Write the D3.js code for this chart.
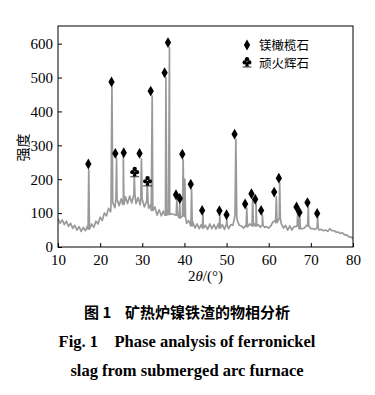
<!DOCTYPE html>
<html>
<head>
<meta charset="utf-8">
<script src="https://cdn.jsdelivr.net/npm/d3@7"></script>
<style>
	body{margin:0;background:#fff;}
	svg{display:block;}
	.serif{font-family:"Liberation Serif","DejaVu Serif",serif;}
</style>
</head>
<body>
<svg id="chart" width="375" height="395"></svg>
<script>
// background trace, every 0.5 deg from 10 to 80
const baseStart = 10, baseStep = 0.5;
const baseline = [
	84,70,80,66,76,61,70,55,64,50,60,46,58,48,62,53,68,58,76,68,
	88,78,100,92,114,104,130,116,140,122,142,126,148,128,150,130,152,128,146,124,
	140,118,134,114,126,108,118,94,110,92,106,94,106,96,98,96,94,92,86,92,
	90,70,78,62,74,56,68,54,66,56,64,52,68,54,66,53,68,56,66,52,
	64,54,66,64,92,80,64,62,56,62,60,68,62,70,62,66,58,64,58,60,
	56,62,74,78,72,84,68,56,64,50,62,50,60,60,62,54,54,56,64,62,
	54,54,52,56,50,52,48,50,46,54,48,48,44,44,40,42,36,36,30,30,24
];
// peak positions (2theta) and peak top intensity
const peakPos = [17.3,22.8,23.9,25.5,28.1,29.8,31.2,32.35,35.6,36.45,38.2,38.9,39.7,40.1,41.7,44.4,48.4,50.0,52.2,54.8,56.2,57.0,58.5,61.8,62.6,66.9,67.4,69.4,71.6];
const peakTop = [228,475,262,265,210,260,185,445,500,588,140,130,258,200,170,95,95,85,318,115,145,128,95,148,190,105,90,118,88];
// phase markers
const olivineX = [17.2,22.7,23.6,25.6,29.35,32.0,35.3,36.1,38.0,38.9,39.5,41.5,44.2,48.3,50.0,51.9,54.4,55.9,56.8,58.2,61.3,62.4,66.6,67.3,69.2,71.5];
const olivineY = [245,487,276,278,276,460,514,603,154,143,274,185,108,107,95,333,127,157,141,108,162,203,118,102,131,99];
const enstatiteX = [28.2,31.25];
const enstatiteY = [222,195];
const xTicks = [10,20,30,40,50,60,70,80];
const yTicks = [0,100,200,300,400,500,600];
const legendLabels = ["镁橄榄石","顽火辉石"];

const svg = d3.select("#chart");
const margin = {left:58, right:22, top:26, bottom:148};
const W = 375, H = 395;
const x = d3.scaleLinear().domain([10,80]).range([margin.left, W-margin.right]);
const y = d3.scaleLinear().domain([0,652]).range([H-margin.bottom, margin.top]);
const cjk = "'Noto Sans CJK SC',sans-serif";

// build trace points
let pts = baseline.map(function(v,i){ return [baseStart+i*baseStep, v]; });
peakPos.forEach(function(p,i){
	let k = Math.round((p-baseStart)/baseStep),
		foot = baseline[Math.max(0,Math.min(baseline.length-1,k))],
		w = peakTop[i] > 300 ? 0.22 : 0.16;
	pts.push([p-w, foot]);
	pts.push([p, peakTop[i]]);
	pts.push([p+w, foot]);
});
pts.sort(function(a,b){ return a[0]-b[0]; });

const line = d3.line().x(function(d){return x(d[0]);}).y(function(d){return y(d[1]);});
svg.append("path").datum(pts)
	.attr("d", line)
	.attr("fill","none")
	.attr("stroke","#9a9a9a")
	.attr("stroke-width",1.7)
	.attr("stroke-linejoin","round");

// frame
svg.append("rect")
	.attr("x", x(10)).attr("y", margin.top)
	.attr("width", x(80)-x(10)).attr("height", y(0)-margin.top)
	.attr("fill","none").attr("stroke","#000").attr("stroke-width",1);

const xAxis = svg.append("g").attr("transform","translate(0,"+y(0)+")")
	.call(d3.axisBottom(x).tickValues(xTicks).tickSizeInner(-4).tickSizeOuter(0).tickPadding(7));
const yAxis = svg.append("g").attr("transform","translate("+x(10)+",0)")
	.call(d3.axisLeft(y).tickValues(yTicks).tickSizeInner(-4).tickSizeOuter(0).tickPadding(5));
[xAxis,yAxis].forEach(function(a){
	a.attr("font-family",null).attr("font-size",15).attr("class","serif");
	a.select(".domain").remove();
	a.selectAll("line").attr("stroke","#000");
	a.selectAll("text").attr("fill","#000");
});

// markers
const diamond = d3.symbol().type(d3.symbolDiamond).size(34);
svg.append("g").selectAll("path").data(olivineX).enter().append("path")
	.attr("d", diamond)
	.attr("transform", function(d,i){ return "translate("+x(d)+","+y(olivineY[i])+")"; })
	.attr("fill","#000");

function club(g, cx, cy){
	g.append("circle").attr("cx",cx).attr("cy",cy-2.8).attr("r",2.2).attr("fill","#000");
	g.append("circle").attr("cx",cx-2.4).attr("cy",cy+0.4).attr("r",2.1).attr("fill","#000");
	g.append("circle").attr("cx",cx+2.4).attr("cy",cy+0.4).attr("r",2.1).attr("fill","#000");
	g.append("path").attr("d","M"+(cx-0.7)+","+cy+" L"+(cx-2)+","+(cy+4.5)+" L"+(cx+2)+","+(cy+4.5)+" L"+(cx+0.7)+","+cy+"Z").attr("fill","#000");
	g.append("line").attr("x1",cx-4.5).attr("x2",cx+4.5).attr("y1",cy+5).attr("y2",cy+5).attr("stroke","#000").attr("stroke-width",0.8);
}
const cg = svg.append("g");
enstatiteX.forEach(function(d,i){ club(cg, x(d), y(enstatiteY[i])); });

// legend
const lg = svg.append("g");
lg.append("path").attr("d",diamond).attr("transform","translate(247,45)").attr("fill","#000");
club(lg, 247, 62);
legendLabels.forEach(function(t,i){
	lg.append("text").attr("x",259).attr("y",50+i*18).text(t)
		.attr("font-family",cjk).attr("font-size",12.5).attr("fill","#000");
});

// axis titles
const xt = svg.append("text").attr("class","serif").attr("x",(x(10)+x(80))/2).attr("y",281)
	.attr("text-anchor","middle").attr("font-size",15);
xt.append("tspan").text("2");
xt.append("tspan").attr("font-style","italic").text("θ");
xt.append("tspan").text("/(°)");
svg.append("text").attr("transform","translate(28,"+((y(0)+margin.top)/2+11)+") rotate(-90)")
	.attr("text-anchor","middle").attr("font-family",cjk).attr("font-size",14).text("强度");

// caption
svg.append("text").attr("x",187).attr("y",318).attr("text-anchor","middle")
	.attr("font-family",cjk).attr("font-weight","bold").attr("font-size",15)
	.attr("xml:space","preserve").text("图 1    矿热炉镍铁渣的物相分析");
svg.append("text").attr("class","serif").attr("x",187).attr("y",347).attr("text-anchor","middle")
	.attr("font-weight","bold").attr("font-size",16.5)
	.attr("xml:space","preserve").text("Fig. 1    Phase analysis of ferronickel");
svg.append("text").attr("class","serif").attr("x",187).attr("y",376).attr("text-anchor","middle")
	.attr("font-weight","bold").attr("font-size",16.5)
	.text("slag from submerged arc furnace");
</script>
</body>
</html>
